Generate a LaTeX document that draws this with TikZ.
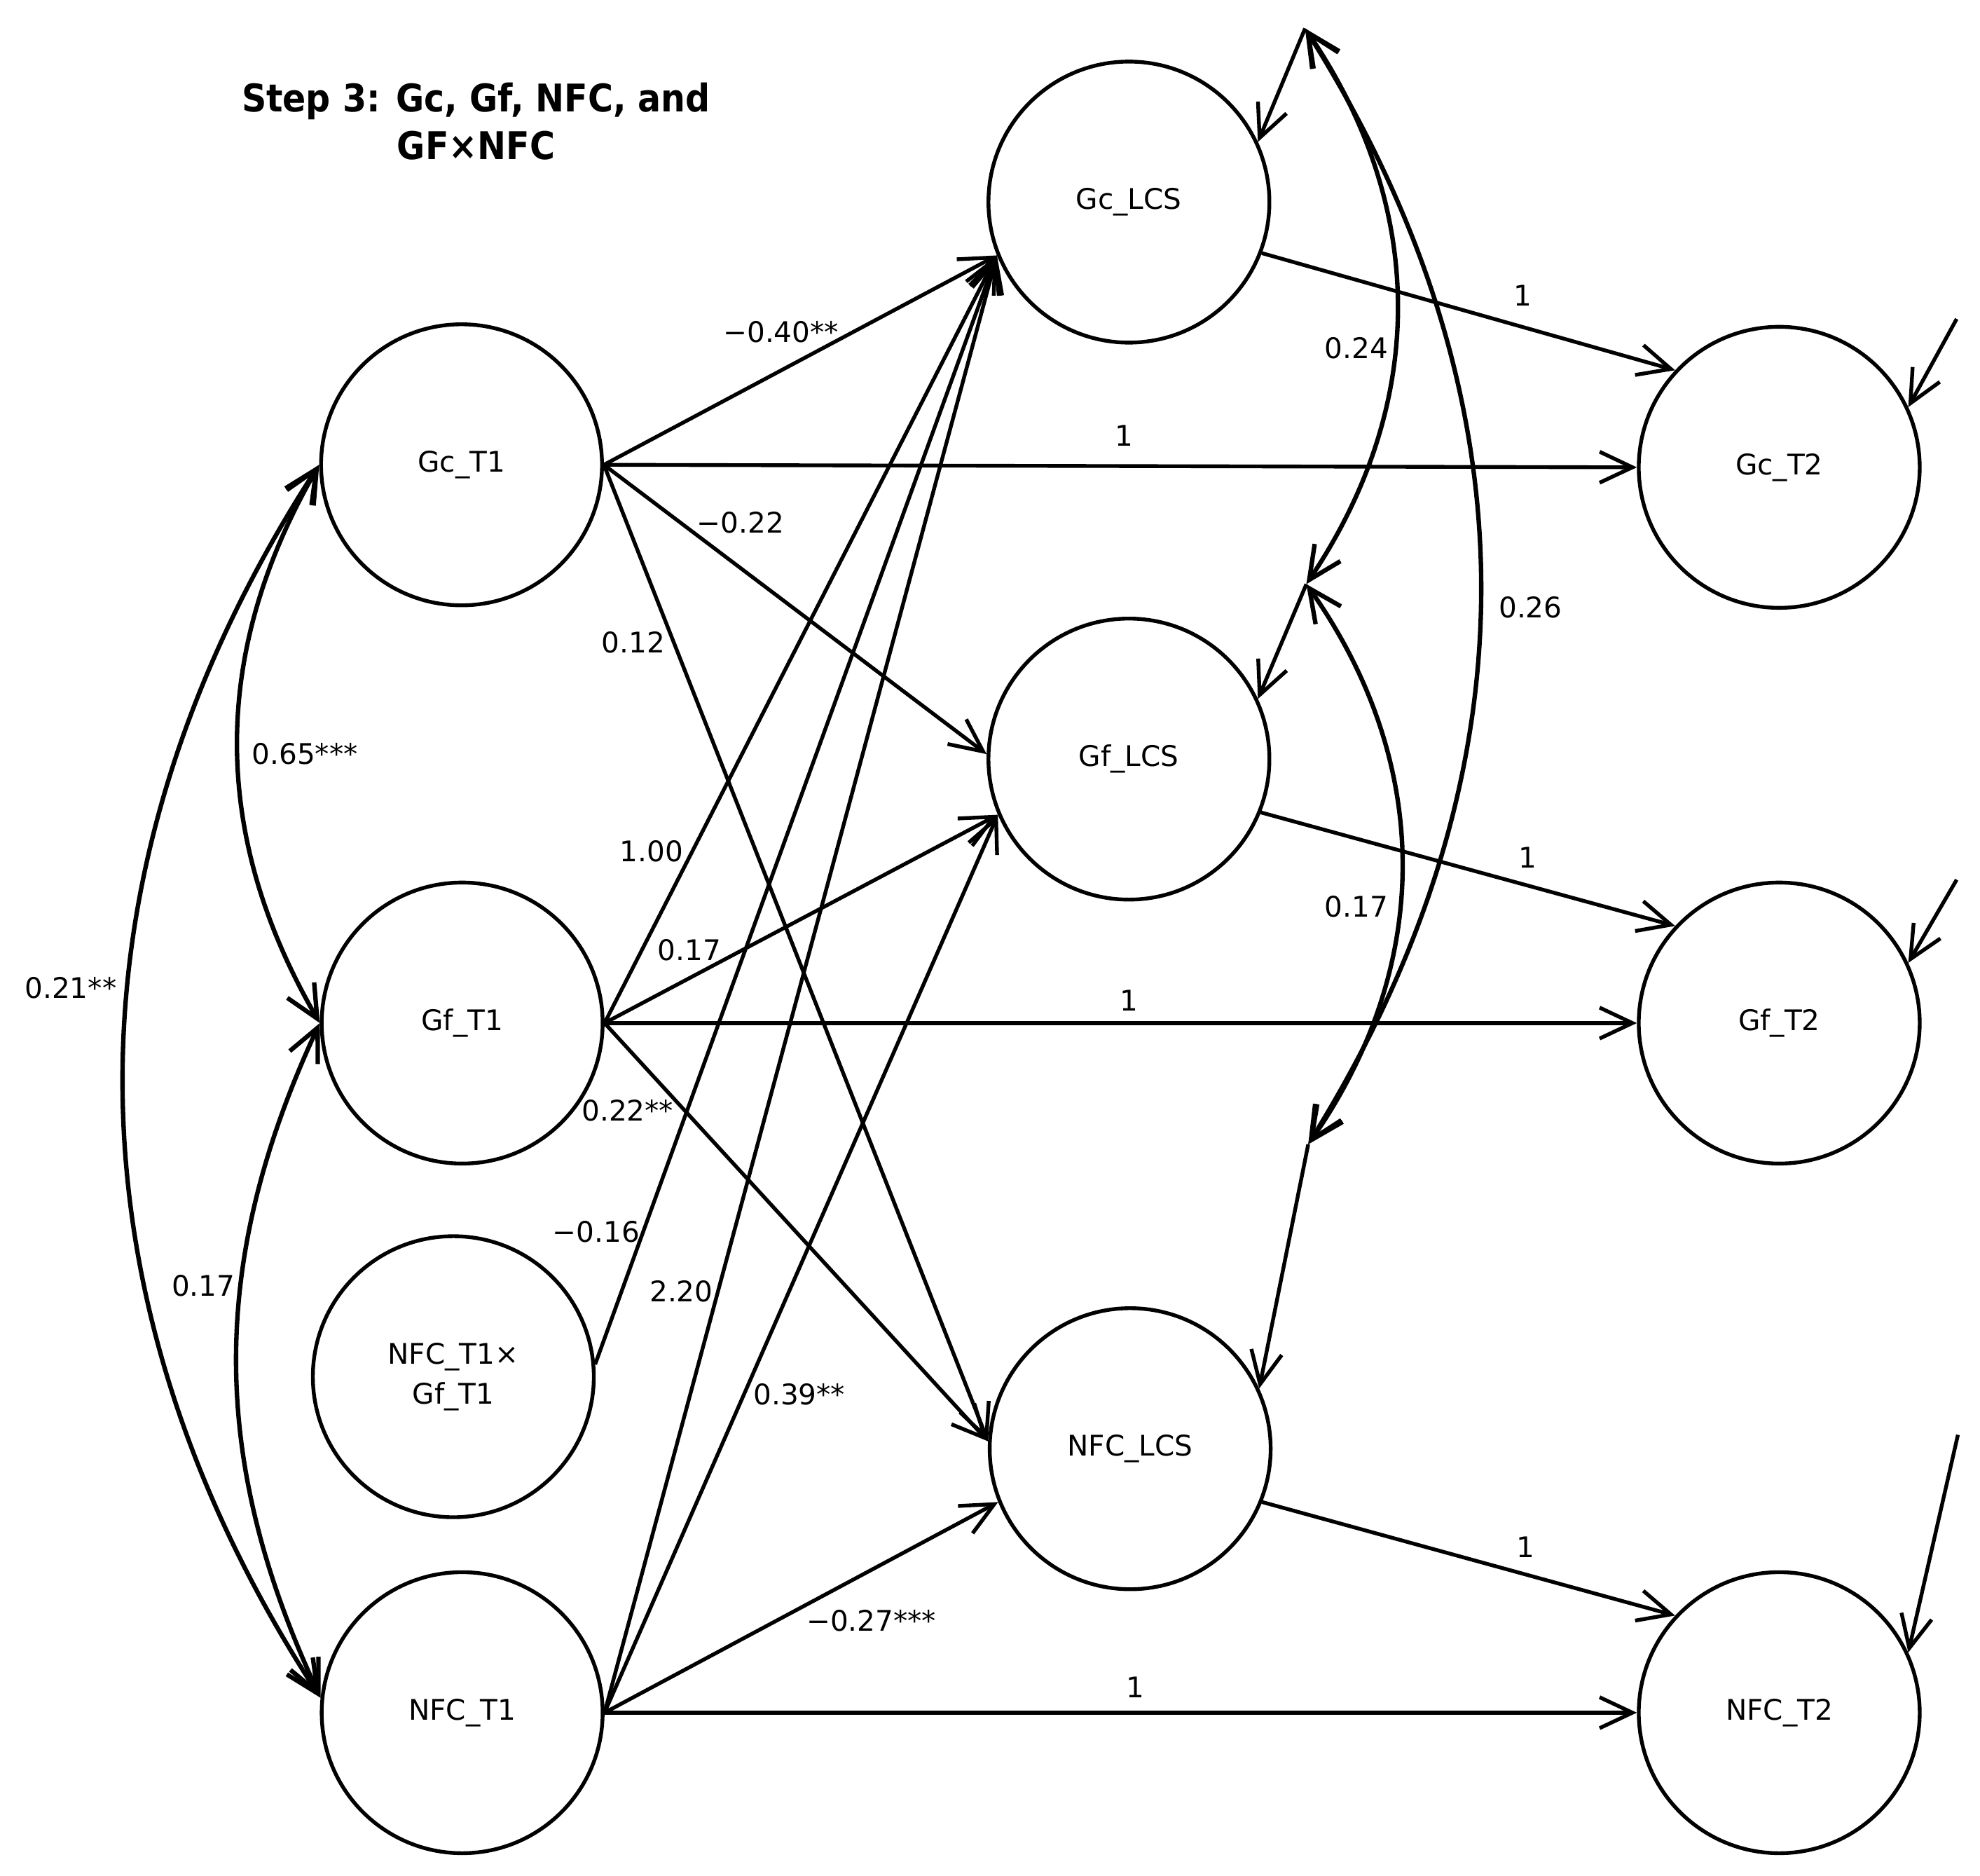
\documentclass[tikz,border=0pt]{standalone}
\usepackage{fontspec}
\setmainfont{DejaVu Sans}
\newfontfamily\titlefont{DejaVu Sans Condensed}[BoldFont={DejaVu Sans Condensed Bold}]
\usetikzlibrary{arrows.meta}
\newcommand{\lblsize}{\fontsize{12.8}{18}\selectfont}

\begin{document}
\begin{tikzpicture}[
    latent/.style={circle, draw, line width=1.7pt, minimum size=4.45cm, inner sep=0pt,
      align=center, font=\lblsize},
    regpath/.style={draw, line width=1.7pt, -{Straight Barb[length=5.2mm,width=4.9mm]}},
    covpath/.style={draw, line width=2pt,
      {Straight Barb[length=5.2mm,width=4.9mm]}-{Straight Barb[length=5.2mm,width=4.9mm]}},
    coef/.style={font=\lblsize, inner sep=0pt}
  ]
    \useasboundingbox (0,0) rectangle (31.36,-29.70);

    % Title
    \node[font=\titlefont\bfseries\fontsize{17.2}{21.6}\selectfont, align=center] (title) at (7.54,-1.92)
      {Step 3: Gc, Gf, NFC, and\\GF×NFC};

    % Time 1 variables
    \node[latent] (GcT1)  at (7.31,-7.36)  {Gc\_T1};
    \node[latent] (GfT1)  at (7.32,-16.20) {Gf\_T1};
    \node[latent] (GfNFC) at (7.18,-21.80) {NFC\_T1×\\Gf\_T1};
    \node[latent] (NFCT1) at (7.32,-27.12) {NFC\_T1};

    % Latent change scores
    \node[latent] (GcLCS)  at (17.88,-3.20)  {Gc\_LCS};
    \node[latent] (GfLCS)  at (17.88,-12.02) {Gf\_LCS};
    \node[latent] (NFCLCS) at (17.90,-22.94) {NFC\_LCS};

    % Time 2 variables
    \node[latent] (GcT2)  at (28.18,-7.40)  {Gc\_T2};
    \node[latent] (GfT2)  at (28.18,-16.20) {Gf\_T2};
    \node[latent] (NFCT2) at (28.18,-27.12) {NFC\_T2};

    % Residual ends
    \coordinate (eGc)   at (20.67,-0.45);
    \coordinate (eGf)   at (20.69,-9.25);
    \coordinate (eNFC)  at (20.72,-18.12);
    \coordinate (rGcT2)  at (30.99,-5.05);
    \coordinate (rGfT2)  at (30.99,-13.93);
    \coordinate (rNFCT2) at (31.01,-22.72);

    % Regressions from T1
    \draw[regpath] (GcT1.east) -- (GcLCS.202);
    \draw[regpath] (GcT1.east) -- (GcT2.west);
    \draw[regpath] (GcT1.east) -- (GfLCS.178);
    \draw[regpath] (GcT1.east) -- (NFCLCS.177);
    \draw[regpath] (GfT1.east) -- (GcLCS.202);
    \draw[regpath] (GfT1.east) -- (GfLCS.203);
    \draw[regpath] (GfT1.east) -- (GfT2.west);
    \draw[regpath] (GfT1.east) -- (NFCLCS.177);
    \draw[regpath] (GfNFC.5)   -- (GcLCS.202);
    \draw[regpath] (NFCT1.east) -- (GcLCS.202);
    \draw[regpath] (NFCT1.east) -- (GfLCS.203);
    \draw[regpath] (NFCT1.east) -- (NFCLCS.202);
    \draw[regpath] (NFCT1.east) -- (NFCT2.west);

    % LCS to T2
    \draw[regpath] (GcLCS.-21)  -- (GcT2.137);
    \draw[regpath] (GfLCS.-22)  -- (GfT2.137);
    \draw[regpath] (NFCLCS.-22) -- (NFCT2.137);

    % Residuals
    \draw[regpath] (eGc)  -- (GcLCS.25);
    \draw[regpath] (eGf)  -- (GfLCS.25);
    \draw[regpath] (eNFC) -- (NFCLCS.25);
    \draw[regpath] (rGcT2)  -- (GcT2.25);
    \draw[regpath] (rGfT2)  -- (GfT2.25);
    \draw[regpath] (rNFCT2) -- (NFCT2.25);

    % Covariances
    \draw[covpath] (GcT1.west) to[bend right=30] (GfT1.west);
    \draw[covpath] (GfT1.west) to[bend right=25] (NFCT1.174);
    \draw[covpath] (GcT1.west) to[bend right=33] (NFCT1.174);
    \draw[covpath] (eGc) to[bend left=34] (eGf);
    \draw[covpath] (eGc) to[bend left=32] (eNFC);
    \draw[covpath] (eGf) to[bend left=35] (eNFC);

    % Coefficients
    \node[coef] (cGcGcL)   at (12.37,-5.26)  {−0.40**};
    \node[coef] (cGcGc)    at (17.80,-6.90)  {1};
    \node[coef] (cGcGfL)   at (11.73,-8.28)  {−0.22};
    \node[coef] (cGcNL)    at (10.03,-10.17) {0.12};
    \node[coef] (cGfGcL)   at (10.32,-13.48) {1.00};
    \node[coef] (cGfGfL)   at (10.92,-15.04) {0.17};
    \node[coef] (cGfGf)    at (17.88,-15.84) {1};
    \node[coef] (cGfNL)    at (9.94,-17.59)  {0.22**};
    \node[coef] (cIntGcL)  at (9.44,-19.50)  {−0.16};
    \node[coef] (cNGcL)    at (10.79,-20.45) {2.20};
    \node[coef] (cNGfL)    at (12.66,-22.08) {0.39**};
    \node[coef] (cNNL)     at (13.80,-25.66) {−0.27***};
    \node[coef] (cNN)      at (17.98,-26.72) {1};
    \node[coef] (cGcLT2)   at (24.12,-4.68)  {1};
    \node[coef] (cGfLT2)   at (24.19,-13.58) {1};
    \node[coef] (cNLT2)    at (24.16,-24.50) {1};
    \node[coef] (cvGcGf)   at (4.83,-11.94)  {0.65***};
    \node[coef] (cvGcN)    at (1.12,-15.64)  {0.21**};
    \node[coef] (cvGfN)    at (3.22,-20.36)  {0.17};
    \node[coef] (cvLGcGf)  at (21.48,-5.51)  {0.24};
    \node[coef] (cvLGcN)   at (24.24,-9.62)  {0.26};
    \node[coef] (cvLGfN)   at (21.48,-14.36) {0.17};
\end{tikzpicture}
\end{document}
